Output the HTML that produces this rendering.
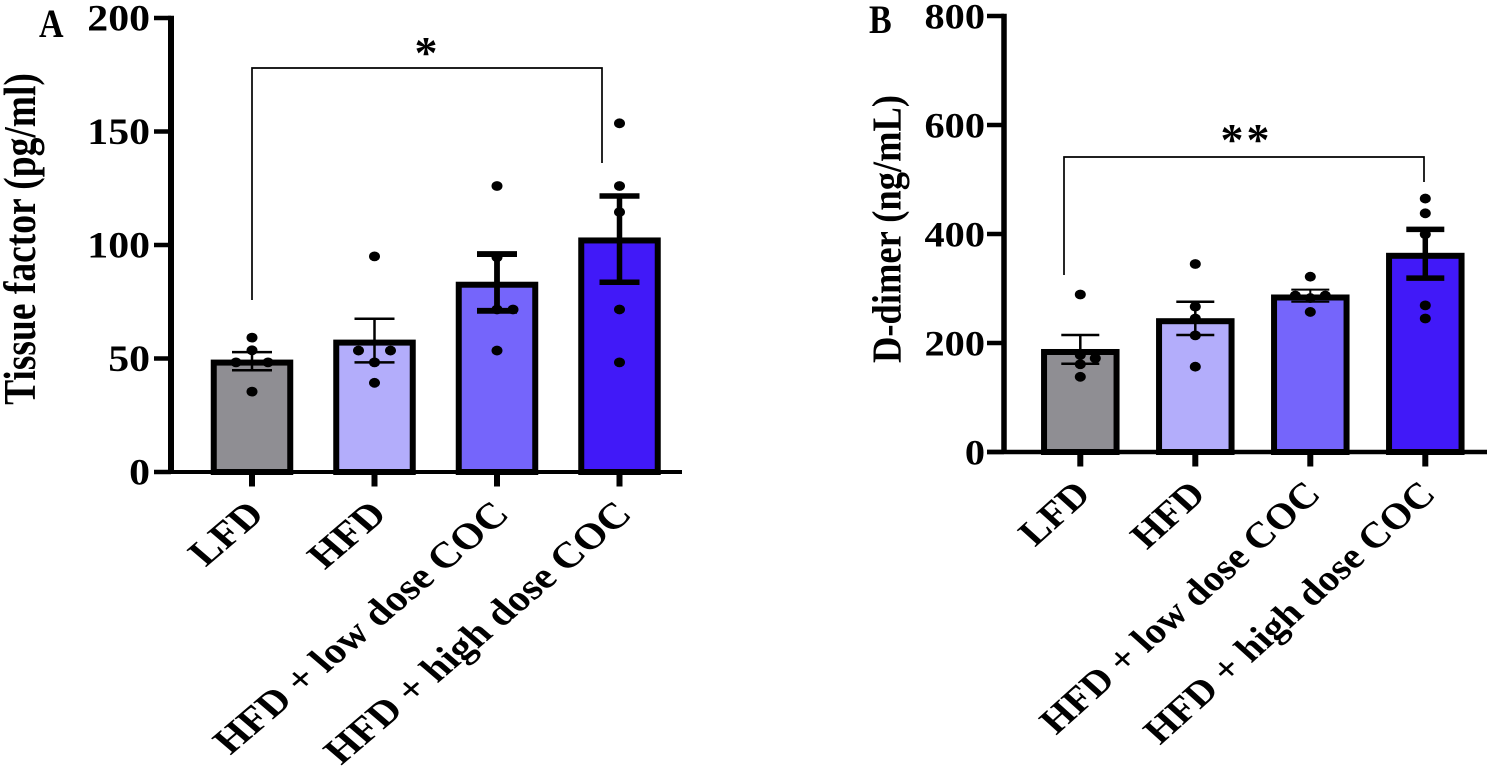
<!DOCTYPE html>
<html lang="en">
<head>
<meta charset="utf-8">
<title>Tissue factor and D-dimer bar charts</title>
<style>
html,body{margin:0;padding:0;background:#fff;width:1508px;height:769px;overflow:hidden}
svg{display:block}
text{font-family:"Liberation Serif",serif;font-weight:bold;fill:#000}
</style>
</head>
<body>
<svg id="figure" xmlns="http://www.w3.org/2000/svg" width="1508" height="769" viewBox="0 0 1508 769"></svg>
<script>
// Shared categories
const categories = ['LFD', 'HFD', 'HFD + low dose COC', 'HFD + high dose COC'];

// Panel A data
const tissueMeans = [48.2, 57, 82.5, 102];
const tissueErrHigh = [52.8, 67.5, 96, 121.6];
const tissueErrLow = [44.8, 48.3, 71, 83.6];
const tissuePoints = [
  [59.2, 53.6, 48.3, 48.3, 35.4],
  [95, 48.3, 53.5, 53.5, 39.3],
  [126, 94.6, 71.6, 71.6, 53.5],
  [153.6, 126, 114.5, 71.6, 48.3]
];
const tissueTicks = [0, 50, 100, 150, 200];

// Panel B data
const dimerMeans = [183.5, 240, 283.5, 360];
const dimerErrHigh = [214.7, 275.8, 298, 408.6];
const dimerErrLow = [162, 214.7, 275.8, 319];
const dimerPoints = [
  [289, 178, 172, 161, 138],
  [345, 266.7, 245, 214, 156.5],
  [321.7, 282.5, 287, 287, 257],
  [465, 438, 399.5, 269, 245]
];
const dimerTicks = [0, 200, 400, 600, 800];

const barFills = ['#8f8e93', '#b3adfb', '#7565fb', '#4119f8'];
const SVG_NS = 'http://www.w3.org/2000/svg';
const svg = document.getElementById('figure');

function make(tag, attrs, parent) {
  const el = document.createElementNS(SVG_NS, tag);
  for (const k in attrs) el.setAttribute(k, attrs[k]);
  (parent || svg).appendChild(el);
  return el;
}

function drawPanel(cfg) {
  const g = make('g', {});
  
  

  const yOf = v => cfg.y0 + (cfg.yTop - cfg.y0) * v / cfg.yMax;
  const xOf = i => cfg.x0 + i * cfg.step;

  // Bars
  cfg.means.forEach((m, i) => {
    const top = yOf(m);
    const bar = make('rect', {
      x: xOf(i) - cfg.barW / 2, y: top, width: cfg.barW, height: cfg.y0 - top,
      fill: barFills[i], stroke: '#000', 'stroke-width': 6
    }, g);
    
    
  });

  // Points, greedy swarm
  cfg.points.forEach((pts, i) => {
    const placed = [];
    pts.forEach(v => {
      const py = yOf(v);
      let slot = 0;
      for (const s of [0, 1, -1]) {
        if (!placed.some(p => p.s === s && Math.abs(p.y - py) < cfg.gap)) { slot = s; break; }
      }
      placed.push({ s: slot, y: py });
      const dot = make('ellipse', {
        cx: xOf(i) + slot * cfg.spread, cy: py, rx: 5.5, ry: 4.9, fill: '#000'
      }, g);
      
      
    });
  });

  // Error bars
  cfg.errHigh.forEach((hi, i) => {
    const lo = cfg.errLow[i];
    const sw = cfg.errStroke[i];
    const err = make('path', {
      d: 'M' + xOf(i) + ' ' + yOf(lo) + 'V' + yOf(hi) +
         'M' + (xOf(i) - cfg.cap) + ' ' + yOf(hi) + 'H' + (xOf(i) + cfg.cap) +
         'M' + (xOf(i) - cfg.cap) + ' ' + yOf(lo) + 'H' + (xOf(i) + cfg.cap),
      fill: 'none', stroke: '#000', 'stroke-width': sw
    }, g);
    
    
  });

  // Y axis
  const yAxis = make('line', {
    x1: cfg.axisX, x2: cfg.axisX, y1: yOf(cfg.yMax) - 2.2, y2: cfg.y0 + 2,
    stroke: '#000', 'stroke-width': cfg.yAxisStroke
  }, g);
  
  

  cfg.ticks.forEach(t => {
    const tick = make('line', {
      x1: cfg.axisX - 17, x2: cfg.axisX, y1: yOf(t), y2: yOf(t),
      stroke: '#000', 'stroke-width': 4.5
    }, g);
    
    

    const label = make('text', {
      transform: 'translate(' + (cfg.axisX - cfg.tickGap) + ' ' + (yOf(t) + 12.5) + ') scale(' + cfg.tickStretch + ' 1)',
      'text-anchor': 'end', 'font-size': cfg.tickFont
    }, g);
    label.textContent = String(t);
    
    
  });

  // X axis
  const xAxis = make('line', {
    x1: cfg.axisX - 17, x2: cfg.xEnd, y1: cfg.y0, y2: cfg.y0,
    stroke: '#000', 'stroke-width': cfg.xAxisStroke
  }, g);
  
  

  categories.forEach((c, i) => {
    const tick = make('line', {
      x1: xOf(i), x2: xOf(i), y1: cfg.y0, y2: cfg.y0 + 14.5,
      stroke: '#000', 'stroke-width': 6
    }, g);
    
    

    const label = make('text', {
      transform: 'translate(' + (xOf(i) + cfg.catDx) + ' ' + (cfg.y0 + 44) + ') scale(' + cfg.catStretch + ' 1) rotate(-45)',
      'text-anchor': 'end', 'font-size': cfg.catFont
    }, g);
    label.textContent = c;
    
    
  });

  // Y title
  const title = make('text', {
    transform: 'translate(' + cfg.titleX + ' ' + cfg.titleY + ') scale(' + cfg.titleStretch + ' 1) rotate(-90)',
    'text-anchor': 'middle', 'font-size': cfg.titleFont
  }, g);
  title.textContent = cfg.title;
  
  

  // Panel letter
  const letter = make('text', {
    transform: 'translate(' + cfg.letterX + ' ' + cfg.letterY + ') scale(1 1.18)', 'font-size': 34
  }, g);
  letter.textContent = cfg.letter;
  
  

  // Significance bracket
  const b = cfg.bracket;
  const bracket = make('path', {
    d: 'M' + b.x1 + ' ' + b.leftEnd + 'V' + b.y + 'H' + b.x2 + 'V' + b.rightEnd,
    fill: 'none', stroke: '#000', 'stroke-width': 1.7
  }, g);
  
  

  const star = make('text', {
    x: (b.x1 + b.x2) / 2 + b.starDx, y: b.starY, 'text-anchor': 'middle',
    'font-size': 46, 'letter-spacing': b.starSpacing
  }, g);
  star.textContent = b.stars;
  
  
}

drawPanel({
  id: 'tissue-factor', letter: 'A', letterX: 39, letterY: 37,
  title: 'Tissue factor (pg/ml)', titleX: 35, titleY: 239, titleFont: 37.5, titleStretch: 1.2,
  means: tissueMeans, errHigh: tissueErrHigh, errLow: tissueErrLow, points: tissuePoints,
  ticks: tissueTicks, yMax: 200, y0: 472, yTop: 18,
  axisX: 171, xEnd: 682, x0: 252, step: 122.5, barW: 76.5,
  cap: 20, gap: 12.3, spread: 16, errStroke: [2.5, 2.5, 5.8, 5.5],
  tickFont: 37, tickStretch: 1.13, tickGap: 21, catFont: 36.5, catStretch: 1.17, catDx: 14,
  yAxisStroke: 6, xAxisStroke: 4,
  bracket: { x1: 252, x2: 602, y: 68, leftEnd: 300, rightEnd: 163, stars: '*', starDx: -1, starY: 68, starSpacing: 0 }
});

drawPanel({
  id: 'd-dimer', letter: 'B', letterX: 869, letterY: 33,
  title: 'D-dimer (ng/mL)', titleX: 900.5, titleY: 229, titleFont: 36.5, titleStretch: 1.12,
  means: dimerMeans, errHigh: dimerErrHigh, errLow: dimerErrLow, points: dimerPoints,
  ticks: dimerTicks, yMax: 800, y0: 452, yTop: 16,
  axisX: 1004, xEnd: 1487, x0: 1080.3, step: 115, barW: 72.5,
  cap: 19, gap: 8, spread: 15, errStroke: [2.5, 2.5, 2, 5.5],
  tickFont: 36, tickStretch: 1.12, tickGap: 19, catFont: 36.5, catStretch: 1.11, catDx: 12,
  yAxisStroke: 5.5, xAxisStroke: 4.5,
  bracket: { x1: 1064, x2: 1424, y: 157, leftEnd: 275, rightEnd: 182, stars: '**', starDx: 2.5, starY: 155, starSpacing: 3 }
});
</script>
</body>
</html>
